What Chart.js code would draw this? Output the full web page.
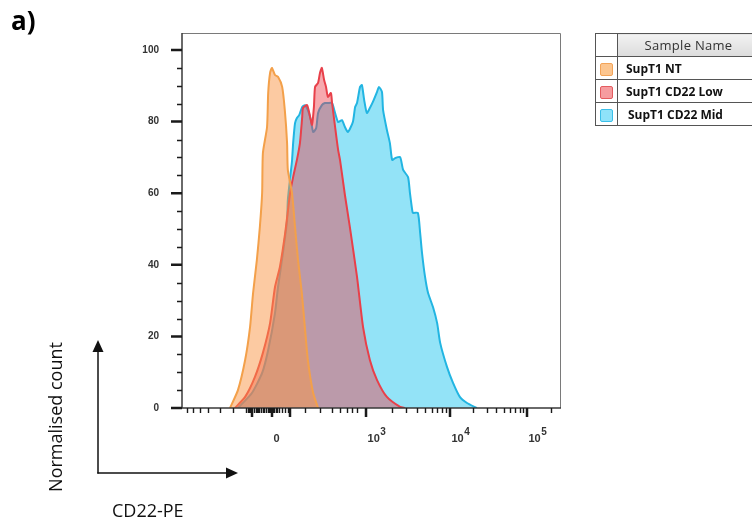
<!DOCTYPE html>
<html>
<head>
<meta charset="utf-8">
<script src="https://cdn.jsdelivr.net/npm/chart.js"></script>
<style>
  html, body { margin: 0; padding: 0; background: #fff; }
  #wrap { position: relative; width: 752px; height: 524px; overflow: hidden; background: #fff; }
  #c { position: absolute; left: 0; top: 0; }
  #panel { position: absolute; left: 11px; top: 7px; font: bold 26px "Open Sans", sans-serif; line-height: 26px; color: #000; }
  #legend { position: absolute; left: 595px; top: 33px; width: 165px; }
  #legend table { border-collapse: collapse; width: 100%; font-family: "Open Sans", sans-serif; }
  #legend td { border: 1.5px solid #555; padding: 0; height: 20px; }
  #legend td.sw { width: 21px; text-align: center; }
  #legend td.hd { background: linear-gradient(#f2f2f2, #dcdcdc); color: #333; font-size: 13px; text-align: center; letter-spacing: 0.3px; padding-right: 0; height: 22px; }
  #legend td.nm { font-size: 12px; font-weight: bold; color: #111; padding-left: 8px; }
  .box { display: inline-block; width: 11px; height: 11px; border-radius: 2px; vertical-align: middle; }
  svg { position: absolute; left: 0; top: 0; }
</style>
</head>
<body>
<div id="wrap">
  <canvas id="c" width="752" height="524"></canvas>
  <div id="panel">a)</div>
  <div id="legend">
    <table>
      <tr><td class="sw"></td><td class="hd">Sample Name</td></tr>
      <tr><td class="sw"><span class="box" style="background:#fcc690;border:1.5px solid #f3a459"></span></td><td class="nm">SupT1 NT</td></tr>
      <tr><td class="sw"><span class="box" style="background:#f69c9f;border:1.5px solid #e45c60"></span></td><td class="nm">SupT1 CD22 Low</td></tr>
      <tr><td class="sw"><span class="box" style="background:#8fe2f9;border:1.5px solid #3bbfe9"></span></td><td class="nm" style="padding-left:10px">SupT1 CD22 Mid</td></tr>
    </table>
  </div>
  <svg width="752" height="524">
    <line x1="98" y1="473.5" x2="98" y2="350" stroke="#111" stroke-width="1.5"/>
    <polygon points="98,340 92.5,352 103.5,352" fill="#111"/>
    <line x1="97.3" y1="473" x2="228" y2="473" stroke="#111" stroke-width="1.5"/>
    <polygon points="238,473 226,467.5 226,478.5" fill="#111"/>
    <text x="0" y="0" transform="translate(55,417) rotate(-90)" text-anchor="middle" dominant-baseline="central" font-family="Open Sans, sans-serif" font-size="18" fill="#111">Normalised count</text>
    <text x="112" y="517" font-family="Open Sans, sans-serif" font-size="18" fill="#111">CD22-PE</text>
  </svg>
</div>
<script>
// ---- Data (x in display channels 0..1000 of the biexponential CD22-PE axis, y = normalised count) ----
const seriesNames = ['SupT1 NT', 'SupT1 CD22 Low', 'SupT1 CD22 Mid'];

const ntX = [127, 148, 167, 180, 188, 198, 206, 212, 214, 225, 228, 233, 238, 246, 254, 265, 272, 278, 280, 291, 299, 307, 317, 325, 333, 347, 360];
const ntY = [0, 5.0, 13.4, 22.6, 32.1, 41.3, 50.6, 60.1, 71.2, 78.5, 88.0, 93.6, 95.0, 93.0, 92.5, 89.7, 83.2, 74.0, 66.5, 60.1, 50.6, 41.3, 32.1, 22.6, 13.4, 4.2, 0];

const lowX = [140, 167, 193, 214, 233, 246, 259, 273, 286, 294, 304, 312, 318, 320, 331, 339, 344, 349, 352, 360, 365, 370, 376, 381, 386, 394, 397, 405, 413, 418, 431, 444, 463, 479, 497, 516, 542, 577, 590];
const lowY = [0, 3.1, 8.7, 15.4, 23.7, 33.8, 39.4, 48.9, 60.1, 64.5, 69.3, 74.0, 81.3, 83.8, 84.6, 81.3, 79.1, 84.1, 89.7, 90.8, 93.6, 95.0, 91.6, 89.7, 86.9, 88.0, 85.2, 78.5, 72.1, 69.3, 59.5, 50.6, 36.6, 22.6, 13.4, 7.8, 3.1, 0.3, 0];

const midX = [148, 185, 212, 228, 246, 254, 267, 278, 280, 286, 291, 294, 299, 304, 310, 318, 325, 333, 341, 347, 355, 360, 370, 378, 386, 397, 405, 413, 423, 431, 439, 452, 458, 463, 471, 476, 482, 489, 497, 505, 516, 521, 529, 532, 542, 550, 556, 564, 577, 585, 598, 603, 609, 611, 624, 630, 635, 643, 651, 664, 675, 683, 701, 717, 735, 754, 780];
const midY = [0, 4.2, 9.8, 16.2, 26.5, 33.8, 43.3, 52.5, 58.1, 64.2, 69.0, 74.0, 79.6, 81.0, 81.8, 84.1, 84.6, 83.2, 80.4, 77.1, 78.2, 82.4, 84.6, 85.2, 85.2, 85.2, 82.4, 79.9, 80.4, 78.5, 77.1, 79.9, 84.1, 85.2, 89.7, 90.2, 86.0, 82.4, 83.8, 85.5, 88.3, 89.7, 88.3, 83.2, 77.7, 74.0, 69.3, 69.8, 70.1, 66.5, 64.5, 60.1, 55.3, 54.5, 54.5, 48.9, 43.3, 36.6, 32.1, 28.2, 23.7, 18.2, 11.5, 7.0, 3.1, 1.4, 0];

// ---- Axis ticks ----
const xLabelValues = [238.1, 486.8, 709.0, 912.7];
const xLabelBase = ['0', '10', '10', '10'];
const xLabelExp = ['', '3', '4', '5'];
const xMajorTicks = [185.2, 238.1, 285.7, 486.8, 709.0, 912.7];
const xMinorTicks = [13.2, 29.1, 47.6, 68.8, 100.5, 134.9,
  169.3, 173.5, 177.2, 181.0, 190.5, 195.8, 198.5, 201.1, 205.0, 209.0, 214.3, 218.0, 222.2, 227.5, 230.0, 232.8, 235.5, 240.8, 243.4, 248.7, 252.5, 256.6, 264.6, 272.5, 280.4,
  325.4, 365.1, 396.8, 418.0, 436.5, 449.7, 463.0,
  555.0, 593.5, 622.0, 643.5, 660.5, 675.5, 688.5, 699.5,
  770.3, 806.2, 831.6, 851.4, 867.5, 881.1, 892.9, 903.4,
  975.0];
const yTicks = [0, 20, 40, 60, 80, 100];
const yMinorTicks = [5, 10, 15, 25, 30, 35, 45, 50, 55, 65, 70, 75, 85, 90, 95];

const toPts = (xs, ys) => xs.map((x, i) => ({ x: x, y: ys[i] }));

const axisPlugin = {
  id: 'axisDecor',
  afterDraw(chart) {
    const { ctx, chartArea: a, scales: { x, y } } = chart;
    ctx.save();
    // frame (top/right)
    ctx.strokeStyle = '#7a7a7a';
    ctx.lineWidth = 1;
    ctx.beginPath();
    ctx.moveTo(a.left, a.top + 0.5);
    ctx.lineTo(a.right + 0.5, a.top + 0.5);
    ctx.lineTo(a.right + 0.5, a.bottom);
    ctx.stroke();
    // axis lines
    ctx.strokeStyle = '#3a3a3a';
    ctx.lineWidth = 1.5;
    ctx.beginPath();
    ctx.moveTo(a.left, a.top);
    ctx.lineTo(a.left, a.bottom);
    ctx.lineTo(a.right + 1, a.bottom);
    ctx.stroke();
    // x ticks
    ctx.strokeStyle = '#1a1a1a';
    ctx.lineWidth = 1.4;
    ctx.beginPath();
    xMinorTicks.forEach(v => { const p = Math.round(x.getPixelForValue(v)) + 0.5; ctx.moveTo(p, a.bottom); ctx.lineTo(p, a.bottom + 5); });
    ctx.stroke();
    ctx.lineWidth = 2.5;
    ctx.beginPath();
    xMajorTicks.forEach(v => { const p = x.getPixelForValue(v); ctx.moveTo(p, a.bottom); ctx.lineTo(p, a.bottom + 9); });
    ctx.stroke();
    // y ticks
    ctx.lineWidth = 1.3;
    ctx.beginPath();
    yMinorTicks.forEach(v => { const p = Math.round(y.getPixelForValue(v)) + 0.5; ctx.moveTo(a.left, p); ctx.lineTo(a.left - 5, p); });
    ctx.stroke();
    ctx.lineWidth = 2.5;
    ctx.beginPath();
    yTicks.forEach(v => { const p = y.getPixelForValue(v); ctx.moveTo(a.left, p); ctx.lineTo(a.left - 11, p); });
    ctx.stroke();
    // x labels with superscript exponents
    ctx.fillStyle = '#333';
    ctx.textBaseline = 'alphabetic';
    ctx.textAlign = 'left';
    xLabelValues.forEach((v, i) => {
      const p = x.getPixelForValue(v) + 1.5;
      const base = a.bottom + 34;
      ctx.font = 'bold 11px "Liberation Sans", Arial, sans-serif';
      ctx.fillText(xLabelBase[i], p, base);
      if (xLabelExp[i]) {
        const w = ctx.measureText(xLabelBase[i]).width;
        ctx.font = 'bold 10px "Liberation Sans", Arial, sans-serif';
        ctx.fillText(xLabelExp[i], p + w + 0.5, base - 7);
      }
    });
    ctx.restore();
  }
};

new Chart(document.getElementById('c'), {
  type: 'line',
  data: {
    datasets: [
      { label: seriesNames[0], data: toPts(ntX, ntY), borderColor: '#f3a04a', backgroundColor: 'rgba(250,150,70,0.5)', fill: 'origin', borderWidth: 2, pointRadius: 0, tension: 0.2 },
      { label: seriesNames[1], data: toPts(lowX, lowY), borderColor: '#e8404a', backgroundColor: 'rgba(235,65,75,0.45)', fill: 'origin', borderWidth: 2, pointRadius: 0, tension: 0.2 },
      { label: seriesNames[2], data: toPts(midX, midY), borderColor: '#22b5e2', backgroundColor: 'rgba(40,200,240,0.5)', fill: 'origin', borderWidth: 2, pointRadius: 0, tension: 0.2 }
    ]
  },
  options: {
    responsive: false,
    animation: false,
    layout: { padding: { left: 112, top: 33, right: 192, bottom: 76 } },
    plugins: { legend: { display: false }, tooltip: { enabled: false } },
    scales: {
      x: {
        type: 'linear', min: 0, max: 1000,
        grid: { display: false }, border: { display: false },
        afterBuildTicks: s => { s.ticks = xLabelValues.map(v => ({ value: v })); },
        afterFit: s => { s.height = 40; },
        ticks: { display: false }
      },
      y: {
        type: 'linear', min: 0, max: 104.75,
        grid: { display: false, drawTicks: false }, border: { display: false },
        afterBuildTicks: s => { s.ticks = yTicks.map(v => ({ value: v })); },
        afterFit: s => { s.width = 70; },
        ticks: {
          autoSkip: false, padding: 23,
          color: '#333', font: { family: 'Liberation Sans, Arial, sans-serif', size: 10, weight: 'bold' },
          callback: v => String(v)
        }
      }
    }
  },
  plugins: [axisPlugin]
});
</script>
</body>
</html>
